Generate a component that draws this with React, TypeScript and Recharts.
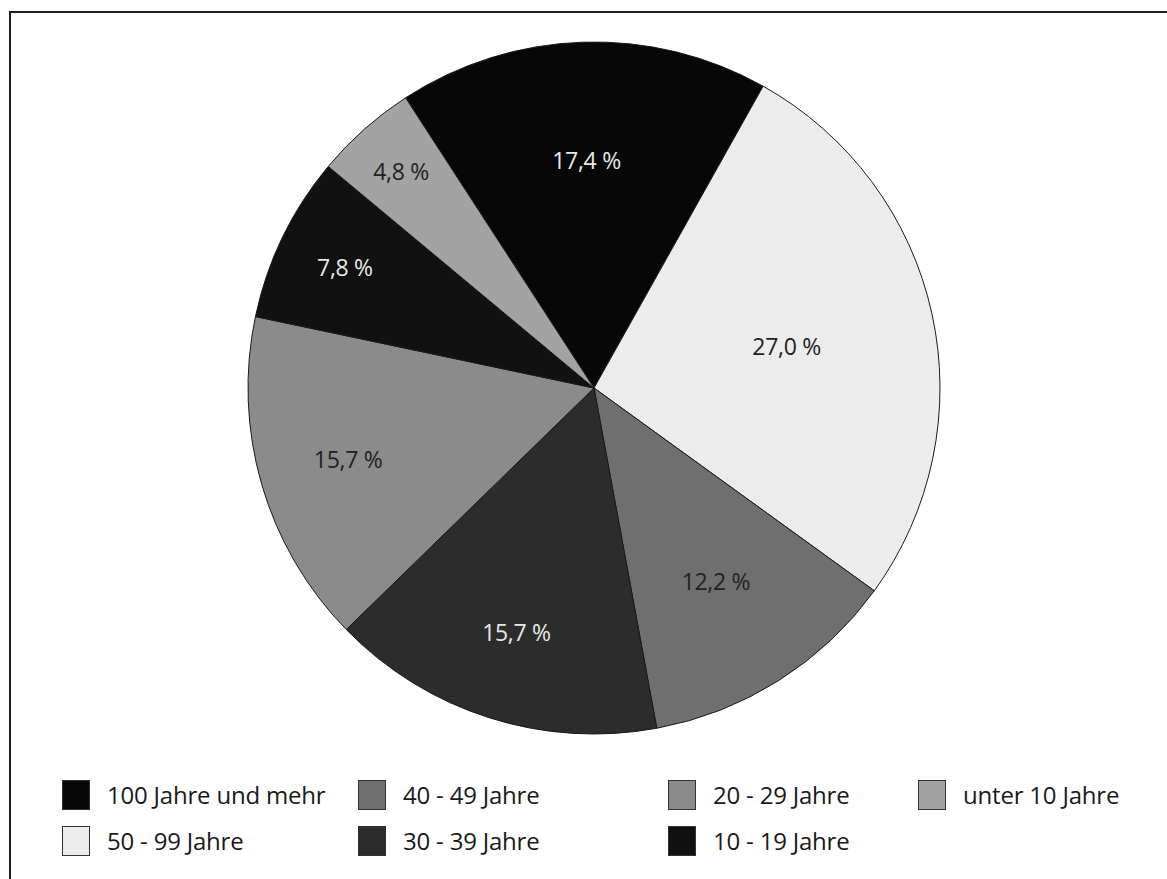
import { PieChart, Pie, Cell } from "recharts";

const categories = [
  "100 Jahre und mehr",
  "50 - 99 Jahre",
  "40 - 49 Jahre",
  "30 - 39 Jahre",
  "20 - 29 Jahre",
  "10 - 19 Jahre",
  "unter 10 Jahre",
];

const shares = [17.4, 27.0, 12.2, 15.7, 15.7, 7.8, 4.8];

const colors = ["#070707", "#ececec", "#6f6f6f", "#2c2c2c", "#8b8b8b", "#111111", "#a3a3a3"];

const labelColors = ["#e8e8e8", "#222", "#222", "#e8e8e8", "#222", "#e8e8e8", "#222"];

const data = categories.map((name, i) => ({ name, value: shares[i] }));

const FONT = "'Open Sans', 'Noto Sans', sans-serif";
const RAD = Math.PI / 180;

function sliceLabel(props: any) {
  const { cx, cy, midAngle, outerRadius, percent, index } = props;
  // small slices get their label pushed further out
  let f = 0.66;
  if (percent > 0.22) f = 0.57;
  else if (percent > 0.14 && percent < 0.17) f = 0.74;
  else if (percent < 0.06) f = 0.84;
  else if (percent < 0.1) f = 0.8;
  const r = outerRadius * f;
  const x = cx + r * Math.cos(-midAngle * RAD);
  const y = cy + r * Math.sin(-midAngle * RAD);
  return (
    <text
      x={x}
      y={y}
      fill={labelColors[index]}
      textAnchor="middle"
      dominantBaseline="central"
      fontFamily={FONT}
      fontSize={23}
      letterSpacing={-0.3}
    >
      {shares[index].toFixed(1).replace(".", ",") + " %"}
    </text>
  );
}

const legendCols = [62, 358, 668, 918];
const legendRows = [778, 824];

export default function App() {
  return (
    <div style={{ position: "fixed", left: 0, top: 0, width: 1167, height: 879, background: "#fff", overflow: "hidden" }}>
      <div
        style={{
          position: "absolute",
          left: 9,
          top: 11,
          width: 1200,
          height: 900,
          borderLeft: "2px solid #1e1e1e",
          borderTop: "2px solid #1e1e1e",
        }}
      />
      <div style={{ position: "absolute", left: 0, top: 0 }}>
        <PieChart width={1167} height={760} margin={{ top: 0, right: 0, bottom: 0, left: 0 }}>
          <Pie
            data={data}
            dataKey="value"
            nameKey="name"
            cx={594}
            cy={388}
            outerRadius={346}
            startAngle={123}
            endAngle={-237}
            stroke="#1a1a1a"
            strokeWidth={1}
            label={sliceLabel}
            labelLine={false}
            isAnimationActive={false}
          >
            {data.map((d, i) => (
              <Cell key={d.name} fill={colors[i]} />
            ))}
          </Pie>
        </PieChart>
      </div>
      {categories.map((name, i) => {
        const col = Math.floor(i / 2);
        const row = i % 2;
        return (
          <div
            key={name}
            style={{
              position: "absolute",
              left: legendCols[col],
              top: legendRows[row],
              display: "flex",
              alignItems: "center",
              fontFamily: FONT,
              fontSize: 24,
              letterSpacing: -0.2,
              color: "#1a1a1a",
            }}
          >
            <span
              style={{
                display: "inline-block",
                width: 28,
                height: 30,
                background: colors[i],
                border: "1.5px solid #333",
                boxSizing: "border-box",
                marginRight: 17,
              }}
            />
            {name}
          </div>
        );
      })}
    </div>
  );
}
